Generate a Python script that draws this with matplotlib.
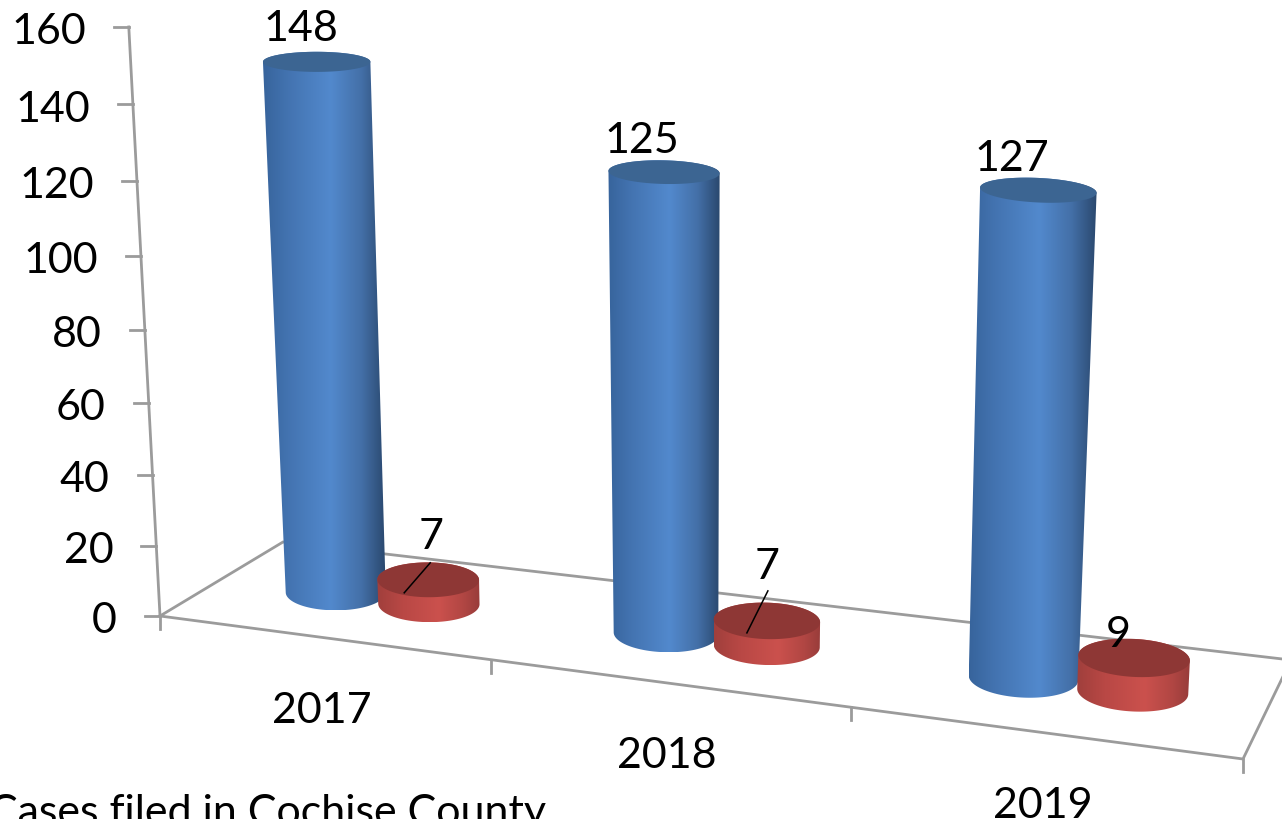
import numpy as np
import matplotlib
matplotlib.use("Agg")
import matplotlib.pyplot as plt
from matplotlib.colors import LinearSegmentedColormap
from matplotlib.patches import Polygon

# --- data ---
categories = ["2017", "2018", "2019"]
series_a = [148, 125, 127]
series_b = [7, 7, 9]
y_ticks = [0, 20, 40, 60, 80, 100, 120, 140, 160]
caption = "Cases filed in Cochise County"

# --- style / projection parameters (pixel layout of the 3D scene) ---
W, H = 1282, 820
FONT = "Lato"
FS = 31
AXC = "#9b9b9b"
FLOOR = np.array([[160, 617], [1243, 760], [1291, 661], [283, 543]], float)  # u,w corners
AXIS_VP = np.array([710.0, 11000.0])
A, B = 3.476, 0.000349
BAR_OFF = 0.145
U_WARP = 0.042
BAR_SHIFT = 0.002
BAR_W = 0.49


def solve_h(p):
    src = np.array([[0, 0], [1, 0], [1, 1], [0, 1]], float)
    M, r = [], []
    for (u, w), (x, y) in zip(src, p):
        M.append([u, w, 1, 0, 0, 0, -u * x, -w * x]); r.append(x)
        M.append([0, 0, 0, u, w, 1, -u * y, -w * y]); r.append(y)
    return np.append(np.linalg.solve(np.array(M), np.array(r)), 1).reshape(3, 3)


HM = solve_h(FLOOR)


def floor_pt(u, w):
    u = u + U_WARP * u * (1 - u)
    q = HM @ np.array([u, w, 1.0])
    return q[:2] / q[2]


def height(v):
    return A * v / (1 - B * v)


def project(u, w, v):
    base = floor_pt(u, w)
    sf = 0.94 + base[0] * 0.000113 if w > 0 else 1.0
    d = base - AXIS_VP
    d = d / np.linalg.norm(d)
    return base + d * height(v) * sf / abs(d[1])


def ellipse(c, width, hgt, tilt, t):
    a = np.radians(tilt)
    x = width / 2 * np.cos(t)
    y = hgt / 2 * np.sin(t)
    return np.column_stack([c[0] + x * np.cos(a) - y * np.sin(a),
                            c[1] + x * np.sin(a) + y * np.cos(a)])


cm_blue = LinearSegmentedColormap.from_list(
    "b", [(0, "#37649c"), (0.2, "#4373b0"), (0.55, "#5289cd"), (0.8, "#4470a8"), (1, "#2a486e")])
cm_red = LinearSegmentedColormap.from_list(
    "r", [(0, "#a03f3c"), (0.25, "#b94845"), (0.6, "#cb514d"), (0.85, "#b04643"), (1, "#983c3a")])


def cylinder(ax, u, v, cmap, capcolor, z):
    base = floor_pt(u, BAR_W)
    top = project(u, BAR_W, v)
    wb = 100 * (1 + (base[0] - 335) * 0.00014)
    wt = wb * (1 + v * 0.0005)
    hb = wb * 0.36
    ht = wt * (0.35 - 0.0011 * v)
    tilt = (base[0] - 335) * 0.004
    tb = np.linspace(0, np.pi, 80)
    tt = np.linspace(np.pi, 2 * np.pi, 80)
    outline = np.vstack([ellipse(base, wb, hb, tilt, tb), ellipse(top, wt, ht, tilt, tt)])
    poly = Polygon(outline, closed=True, facecolor="none", edgecolor="none", zorder=z)
    ax.add_patch(poly)
    x0, x1 = outline[:, 0].min(), outline[:, 0].max()
    y0, y1 = outline[:, 1].min(), outline[:, 1].max()
    g = np.linspace(0, 1, 256)[None, :]
    im = ax.imshow(g, cmap=cmap, extent=(x0, x1, y1, y0), aspect="auto", zorder=z, interpolation="bilinear")
    im.set_clip_path(poly)
    cap = ellipse(top, wt, ht, tilt, np.linspace(0, 2 * np.pi, 120))
    ax.add_patch(Polygon(cap, closed=True, facecolor=capcolor, edgecolor="none", zorder=z + 0.1))
    return top


fig = plt.figure(figsize=(W / 100, H / 100), dpi=100, facecolor="white")
ax = fig.add_axes([0, 0, 1, 1])
ax.axis("off")

# floor and axes
lw = 2.0
ax.plot(*zip(FLOOR[0], FLOOR[1], FLOOR[2], FLOOR[3], FLOOR[0]), color=AXC, lw=lw, zorder=1, solid_joinstyle="miter")
for i in range(len(categories) + 1):
    p = floor_pt(i / len(categories), 0)
    ax.plot([p[0], p[0]], [p[1], p[1] + 13], color=AXC, lw=lw, zorder=1)

pts = np.array([project(0, 0, v) for v in y_ticks])
ax.plot(pts[:, 0], pts[:, 1], color=AXC, lw=lw, zorder=1)
for v, p in zip(y_ticks, pts):
    ax.plot([p[0] - 15, p[0]], [p[1], p[1]], color=AXC, lw=lw, zorder=1)
    ax.text(p[0] - 43, p[1] + 1, str(v), ha="right", va="center_baseline", family=FONT, fontsize=FS, color="black")

# bars
a_offs = [(-16, -37), (-22, -36), (-26, -36)]
b_offs = [(3, -47), (0, -58), (-16, -27)]
leaders = [((2, -17), (-24, 13)), ((1, -30), (-20, 12)), None]
n = len(categories)
for i, c in enumerate(categories):
    ua = (i + 0.5 - BAR_OFF) / n + BAR_SHIFT
    ub = (i + 0.5 + BAR_OFF) / n + BAR_SHIFT
    ta = cylinder(ax, ua, series_a[i], cm_blue, "#3c6592", 3 + i * 2)
    tb = cylinder(ax, ub, series_b[i], cm_red, "#8e3735", 4 + i * 2)
    ax.text(ta[0] + a_offs[i][0], ta[1] + a_offs[i][1], str(series_a[i]), ha="center", va="center_baseline",
            family=FONT, fontsize=FS, color="black", zorder=20)
    ax.text(tb[0] + b_offs[i][0], tb[1] + b_offs[i][1], str(series_b[i]), ha="center", va="center_baseline",
            family=FONT, fontsize=FS, color="black", zorder=20)
    if leaders[i]:
        s, e = leaders[i]
        ax.plot([tb[0] + s[0], tb[0] + e[0]], [tb[1] + s[1], tb[1] + e[1]], color="black", lw=1.1, zorder=20)
    fp = floor_pt((i + 0.5) / n, 0)
    ax.text(fp[0], fp[1] + 69, c, ha="center", va="center_baseline", family=FONT, fontsize=FS, color="black", zorder=20)

ax.text(546, 825, caption, ha="right", va="baseline", family=FONT, fontsize=FS, color="black", zorder=20)

ax.set_xlim(0, W)
ax.set_ylim(H, 0)
fig.savefig("out.png", dpi=100)
